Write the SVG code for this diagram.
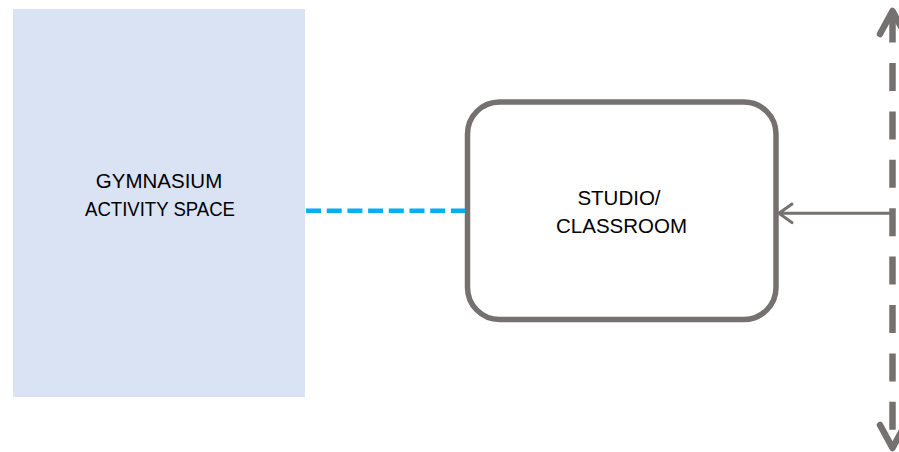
<svg xmlns="http://www.w3.org/2000/svg" width="899" height="452" viewBox="0 0 899 452">
  <style>
    .label { font-family: "Liberation Sans", Arial, sans-serif; font-size: 20.5px; fill: #000000; text-anchor: middle; }
    .grey { stroke: #767171; fill: none; }
  </style>
  <rect width="899" height="452" fill="#FFFFFF"/>
  <g id="gymnasium">
    <rect x="13" y="9" width="292" height="388" fill="#DAE3F3"/>
    <text class="label" x="159" y="188">GYMNASIUM</text>
    <text class="label" x="160" y="216" textLength="150" lengthAdjust="spacingAndGlyphs">ACTIVITY SPACE</text>
  </g>
  <g id="studio">
    <rect x="467.5" y="102" width="308.5" height="217.5" rx="32" ry="32" fill="#FFFFFF" stroke="#767171" stroke-width="5.5"/>
    <text class="label" x="619" y="205">STUDIO/</text>
    <text class="label" x="621.5" y="233">CLASSROOM</text>
  </g>
  <g id="connectors">
    <line x1="306" y1="210.7" x2="465" y2="210.7" stroke="#00B0F0" stroke-width="4.5" stroke-dasharray="15 5.7"/>
    <g id="vertical-arrow">
      <line class="grey" x1="892.5" y1="14.6" x2="892.5" y2="445" stroke-width="6.5" stroke-dasharray="28 20.4"/>
      <polyline class="grey" points="880,34 892.5,11 905,34" stroke-width="6.5" stroke-linecap="round" stroke-linejoin="round"/>
      <polyline class="grey" points="880,425 892.5,448 905,425" stroke-width="6.5" stroke-linecap="round" stroke-linejoin="round"/>
    </g>
    <g id="horizontal-arrow">
      <line class="grey" x1="779" y1="213.3" x2="890" y2="213.3" stroke-width="3"/>
      <polyline class="grey" points="792,204 779,213.3 792,222.6" stroke-width="3" stroke-linecap="round" stroke-linejoin="round"/>
    </g>
  </g>
</svg>
